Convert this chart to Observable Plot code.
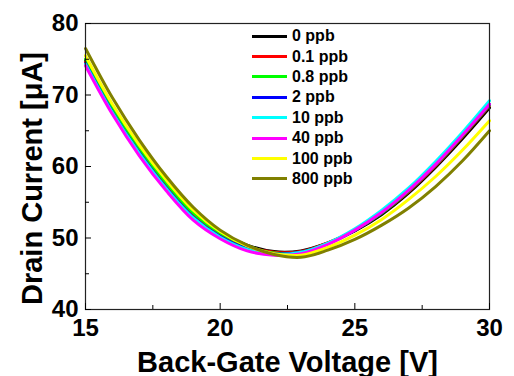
<!DOCTYPE html>
<html>
<head>
<meta charset="utf-8">
<script src="https://cdn.jsdelivr.net/npm/d3@7"></script>
<script src="https://cdn.jsdelivr.net/npm/@observablehq/plot@0.6"></script>
<style>
  html, body { margin: 0; padding: 0; background: #fff; }
  #wrap { position: relative; width: 514px; height: 376px; overflow: hidden; font-family: "Liberation Sans", Arial, sans-serif; }
  #legend { position: absolute; left: 252px; top: 26px; }
  .row { display: flex; align-items: center; height: 20.4px; }
  .sw { width: 35px; height: 3px; margin-right: 5px; }
  .lab { font-size: 16px; font-weight: bold; color: #000; line-height: 16px; }
</style>
</head>
<body>
<div id="wrap"></div>
<script>
// Back-gate voltage grid [V]
const voltage = [15, 16, 17, 18, 19, 20, 21, 22, 23, 24, 25, 26, 27, 28, 29, 30];

// Drain current [µA] for each NO2 concentration
const ppb0   = [74.8, 68.0, 62.3, 57.5, 53.4, 50.7, 49.0, 48.1, 48.2, 49.3, 51.0, 53.3, 56.3, 59.9, 63.9, 68.2];
const ppb0_1 = [74.6, 67.8, 62.1, 57.3, 53.2, 50.5, 48.8, 48.0, 48.1, 49.3, 51.1, 53.5, 56.5, 60.1, 64.2, 68.5];
const ppb0_8 = [75.0, 68.3, 62.6, 57.7, 53.5, 50.7, 48.9, 47.9, 48.0, 49.2, 51.1, 53.5, 56.6, 60.2, 64.3, 68.6];
const ppb2   = [74.4, 67.6, 61.9, 57.0, 52.9, 50.2, 48.5, 47.8, 48.0, 49.2, 51.1, 53.6, 56.7, 60.3, 64.4, 68.7];
const ppb10  = [74.3, 67.5, 61.8, 56.9, 52.8, 50.1, 48.4, 47.7, 48.0, 49.3, 51.3, 53.9, 57.0, 60.7, 64.8, 69.2];
const ppb40  = [74.1, 67.3, 61.5, 56.6, 52.5, 49.9, 48.2, 47.6, 47.8, 49.1, 51.1, 53.6, 56.7, 60.3, 64.4, 68.7];
const ppb100 = [75.5, 68.7, 63.0, 58.1, 53.9, 50.9, 48.9, 47.8, 47.6, 48.7, 50.4, 52.6, 55.4, 58.6, 62.3, 66.4];
const ppb800 = [76.5, 69.6, 63.7, 58.6, 54.3, 51.1, 49.0, 47.7, 47.3, 48.3, 49.8, 51.8, 54.2, 57.2, 60.8, 65.0];

const seriesNames  = ["0 ppb", "0.1 ppb", "0.8 ppb", "2 ppb", "10 ppb", "40 ppb", "100 ppb", "800 ppb"];
const seriesColors = ["#000000", "#ff0000", "#00ff00", "#0000ff", "#00ffff", "#ff00ff", "#ffff00", "#808000"];
const seriesValues = [ppb0, ppb0_1, ppb0_8, ppb2, ppb10, ppb40, ppb100, ppb800];

const xTicks = [15, 20, 25, 30];
const xMinor = [17.5, 22.5, 27.5];
const yTicks = [40, 50, 60, 70, 80];
const yMinor = [45, 55, 65, 75];

const xTitle = "Back-Gate Voltage [V]";
const yTitle = "Drain Current [\u03bcA]";

const rows = [];
seriesValues.forEach((vals, s) => vals.forEach((v, i) => rows.push({s, name: seriesNames[s], V: voltage[i], I: v})));

const W = 514, H = 376;
const mL = 85, mR = 25, mT = 23, mB = 67;
const innerW = W - mL - mR, innerH = H - mT - mB;

const fontBold = {fontFamily: "Liberation Sans, Arial, sans-serif", fontWeight: "bold"};

const chart = Plot.plot({
  width: W, height: H,
  marginLeft: mL, marginRight: mR, marginTop: mT, marginBottom: mB,
  style: {background: "#fff", fontFamily: "Liberation Sans, Arial, sans-serif", overflow: "visible"},
  x: {domain: [15, 30]},
  y: {domain: [40, 80]},
  marks: [
    Plot.line(rows, {x: "V", y: "I", z: "s", stroke: d => seriesColors[d.s], strokeWidth: 3, curve: "catmull-rom"}),
    Plot.frame({stroke: "#222", strokeWidth: 1.2}),
    Plot.tickX(xTicks, {x: d => d, insetTop: innerH - 6, stroke: "#000"}),
    Plot.tickX(xMinor, {x: d => d, insetTop: innerH - 4, stroke: "#000"}),
    Plot.tickY(yTicks, {y: d => d, insetRight: innerW - 6, stroke: "#000"}),
    Plot.tickY(yMinor, {y: d => d, insetRight: innerW - 4, stroke: "#000"}),
    Plot.axisX(xTicks, {tickSize: 0, tickPadding: 9, fontSize: 24, ...fontBold, label: null}),
    Plot.axisY(yTicks, {tickSize: 0, tickPadding: 7, fontSize: 24, ...fontBold, label: null}),
    Plot.text([xTitle], {text: d => d, frameAnchor: "bottom", textAnchor: "middle", lineAnchor: "top", dy: 42, fontSize: 29, ...fontBold, fill: "#000"}),
    Plot.text([yTitle], {text: d => d, frameAnchor: "left", textAnchor: "middle", lineAnchor: "middle", rotate: -90, dx: -53, dy: 12, fontSize: 29, ...fontBold, fill: "#000"})
  ]
});

const wrap = document.getElementById("wrap");
wrap.appendChild(chart);

const legend = document.createElement("div");
legend.id = "legend";
seriesNames.forEach((n, i) => {
  const r = document.createElement("div");
  r.className = "row";
  const sw = document.createElement("div");
  sw.className = "sw";
  sw.style.background = seriesColors[i];
  const lb = document.createElement("span");
  lb.className = "lab";
  lb.textContent = n;
  r.appendChild(sw); r.appendChild(lb);
  legend.appendChild(r);
});
wrap.appendChild(legend);
</script>
</body>
</html>
